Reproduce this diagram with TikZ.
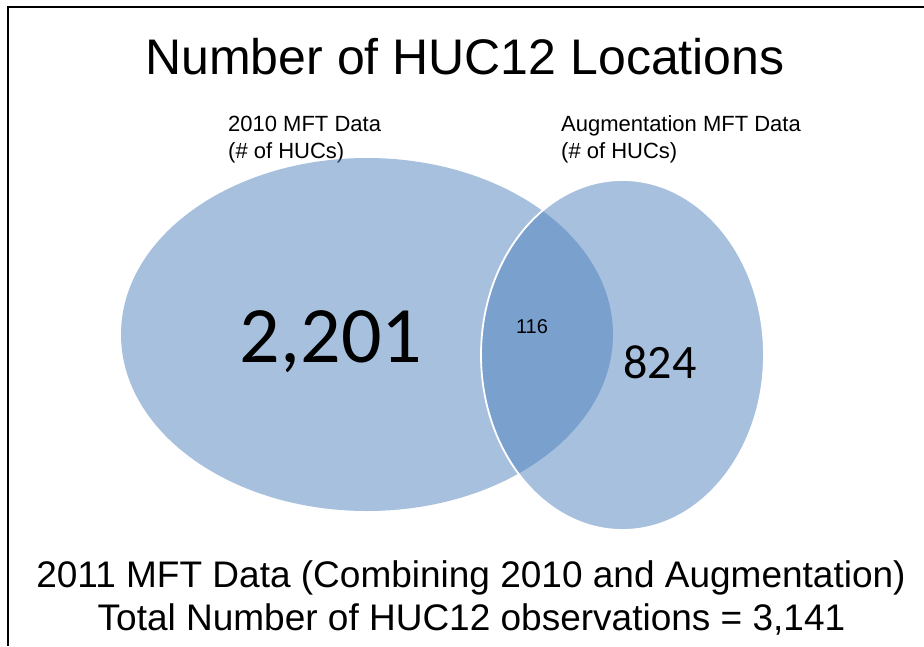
\documentclass[tikz,border=0pt]{standalone}
\usepackage{fontspec}
\setmainfont{Liberation Sans}
\newfontfamily\calib{Carlito}
\usetikzlibrary{shapes.geometric}
\definecolor{accblue}{HTML}{4F81BD}
\begin{document}
\begin{tikzpicture}[x=1pt,y=-1pt,
  venn/.style={ellipse, inner sep=0pt, fill=accblue, fill opacity=0.5},
  lbl/.style={anchor=base west, inner sep=0pt, font=\fontsize{22}{26}\selectfont},
  bottomtxt/.style={anchor=base, inner sep=0pt, font=\fontsize{37}{44}\selectfont}]
\useasboundingbox (0,0) rectangle (924,646);
\draw[line width=2.2pt] (7.6,646) -- (7.6,7.2) -- (924,7.2);
\node[anchor=base, inner sep=0pt, font=\fontsize{50}{60}\selectfont] (title) at (465,74) {Number of HUC12 Locations};
\node[lbl] (l1a) at (228,131.5) {2010 MFT Data};
\node[lbl] (l1b) at (228,158) {(\# of HUCs)};
\node[lbl] (l2a) at (561,131.5) {Augmentation MFT Data};
\node[lbl] (l2b) at (561,158) {(\# of HUCs)};
\node[venn, minimum width=492pt, minimum height=353pt] (left) at (367,334.5) {};
\node[venn, draw=white, draw opacity=1, line width=1.8pt, minimum width=283pt, minimum height=350pt] (right) at (622.5,355) {};
\node[anchor=base, inner sep=0pt, font=\calib\fontsize{80}{96}\selectfont] (n1) at (331,362) {2,201};
\node[anchor=base, inner sep=0pt, font=\fontsize{20}{24}\selectfont] (n2) at (532,333) {116};
\node[anchor=base, inner sep=0pt, font=\calib\fontsize{48}{58}\selectfont] (n3) at (660,378) {824};
\node[bottomtxt] (b1) at (471,587) {2011 MFT Data (Combining 2010 and Augmentation)};
\node[bottomtxt] (b2) at (471.5,630) {Total Number of HUC12 observations = 3,141};
\end{tikzpicture}
\end{document}
